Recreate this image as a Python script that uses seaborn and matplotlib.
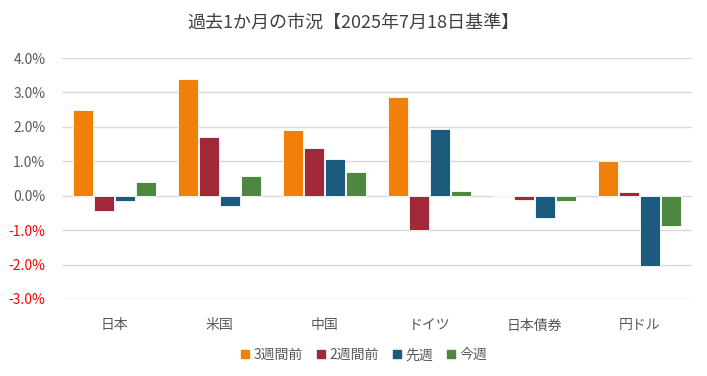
import pandas as pd
import seaborn as sns
import matplotlib.pyplot as plt
from matplotlib.lines import Line2D
from matplotlib.ticker import FuncFormatter

# データ
categories = ['日本', '米国', '中国', 'ドイツ', '日本債券', '円ドル']
series = ['3週間前', '2週間前', '先週', '今週']
w3 = [2.48, 3.38, 1.90, 2.88, 0.0, 1.00]
w2 = [-0.44, 1.70, 1.40, -1.01, -0.12, 0.11]
w1 = [-0.16, -0.31, 1.08, 1.93, -0.66, -2.03]
w0 = [0.40, 0.58, 0.68, 0.14, -0.14, -0.88]
colors = ['#F08008', '#A02838', '#1C5A7E', '#4E8740']

rows = []
for name, vals in zip(series, [w3, w2, w1, w0]):
    for c, v in zip(categories, vals):
        rows.append({'市場': c, '期間': name, '騰落率': v})
df = pd.DataFrame(rows)

sns.set_style('white')
plt.rcParams['font.family'] = ['Noto Sans CJK JP', 'DejaVu Sans']

fig = plt.figure(figsize=(7.07, 3.76), dpi=100)
ax = fig.add_axes([62 / 707, 1 - 299 / 376, 630 / 707, 241 / 376])

sns.barplot(data=df, x='市場', y='騰落率', hue='期間', palette=colors,
            saturation=1, width=0.8, gap=0.08, edgecolor='white',
            linewidth=0.6, legend=False, ax=ax)

ax.set_ylim(-3, 4)
ax.set_yticks([-3, -2, -1, 0, 1, 2, 3, 4])
ax.yaxis.set_major_formatter(FuncFormatter(lambda v, p: f'{v:.1f}%'))
ax.set_xlim(-0.5, 5.5)
ax.grid(axis='y', color='#D9D9D9', linewidth=1)
ax.set_axisbelow(True)
for s in ax.spines.values():
    s.set_visible(False)
ax.set_xlabel('')
ax.set_ylabel('')
ax.tick_params(axis='both', length=0, labelsize=10, colors='#595959')
ax.tick_params(axis='x', pad=14)
ax.tick_params(axis='y', pad=12)
for lbl, v in zip(ax.get_yticklabels(), ax.get_yticks()):
    if v < 0:
        lbl.set_color('red')

fig.suptitle('過去1か月の市況【2025年7月18日基準】', fontsize=13, color='#404040', y=0.965)

handles = [Line2D([], [], marker='s', linestyle='', color=c, markersize=5.5) for c in colors]
fig.legend(handles, series, loc='center', bbox_to_anchor=(0.515, 0.055), ncol=4,
           frameon=False, fontsize=10, handlelength=0.6, handletextpad=0.3,
           columnspacing=1.0, labelcolor='#595959')

fig.savefig('out.png', dpi=100)
